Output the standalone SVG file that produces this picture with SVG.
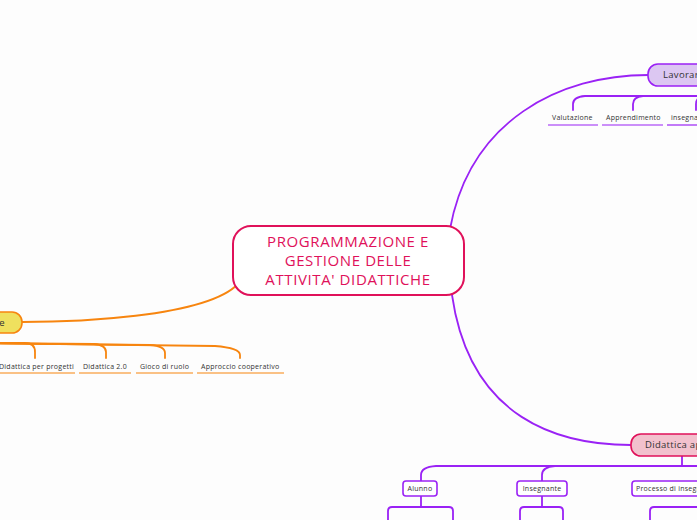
<svg xmlns="http://www.w3.org/2000/svg" width="697" height="520" viewBox="0 0 697 520">
<style>
.conn{fill:none;stroke-width:1.8;stroke-linecap:round}
.p{stroke:#9a22f5}
.o{stroke:#f7850f}
.lbl{font-family:"Open Sans","Liberation Sans",sans-serif;font-size:7px;letter-spacing:0.25px;fill:#333}
.ul{fill:none;stroke-width:1.2}
.root{font-family:"Open Sans","Liberation Sans",sans-serif;font-size:15px;letter-spacing:0.6px;fill:#e0115a;text-anchor:middle}
.main{font-family:"Open Sans","Liberation Sans",sans-serif;font-size:9.5px;letter-spacing:0.3px;fill:#333}
.box{fill:#fff;stroke:#9a22f5;stroke-width:1.6}
</style>
<rect width="697" height="520" fill="#fdfdfd"/>
<g id="connectors">
<path class="conn o" d="M238,284 C205,318 70,322 22,322"/>
<path class="conn p" d="M450,229 C470,120 560,75 648,75"/>
<path class="conn p" d="M452,295 C470,420 560,445 631,445"/>
<path class="conn o" d="M-30,343 L25,343 Q35,343 35,352 L35,358"/>
<path class="conn o" d="M-30,343 L94,344 Q106,345 106,352 L106,358"/>
<path class="conn o" d="M-30,343 L150,345 Q165,346 165,353 L165,358"/>
<path class="conn o" d="M-30,343 L215,346 Q240,348 240,355 L240,358"/>
<path class="conn p" d="M720,96 L585,96 Q573,97 573,104 L573,110"/>
<path class="conn p" d="M720,96 L643,96 Q633,97 633,104 L633,110"/>
<path class="conn p" d="M720,96 L704,96 Q696,97 696,104 L696,110"/>
<path class="conn p" d="M682,456 L682,466"/>
<path class="conn p" d="M720,466 L436,466 Q421,467 421,475 L421,481"/>
<path class="conn p" d="M720,466 L555,466 Q542,467 542,475 L542,481"/>
<path class="conn p" d="M421,496 L421,507"/>
<path class="conn p" d="M388,520 L388,511 Q388,507 392,507 L449,507 Q453,507 453,511 L453,520"/>
<path class="conn p" d="M542,496 L542,507"/>
<path class="conn p" d="M520,520 L520,511 Q520,507 524,507 L559,507 Q563,507 563,511 L563,520"/>
<path class="conn p" d="M650,520 L650,511 Q650,507 654,507 L700,507"/>
</g>
<g id="root">
<rect x="233" y="226" width="231" height="69" rx="18" fill="#fff" stroke="#e0115a" stroke-width="2"/>
<text class="root" x="348" y="247">PROGRAMMAZIONE E</text>
<text class="root" x="348" y="266">GESTIONE DELLE</text>
<text class="root" x="348" y="285">ATTIVITA' DIDATTICHE</text>
</g>
<g id="node-left">
<rect x="-40" y="312" width="62" height="21" rx="10" fill="#efe05e" stroke="#f7850f" stroke-width="1.6"/>
<text class="main" x="5" y="326" text-anchor="end">e</text>
</g>
<g id="node-didattica-progetti">
<text class="lbl" x="-1" y="369">Didattica per progetti</text>
<line class="ul o" x1="0" y1="373" x2="75" y2="373"/>
</g>
<g id="node-didattica-20">
<text class="lbl" x="83" y="369">Didattica 2.0</text>
<line class="ul o" x1="79" y1="373" x2="131" y2="373"/>
</g>
<g id="node-gioco">
<text class="lbl" x="140" y="369">Gioco di ruolo</text>
<line class="ul o" x1="136" y1="373" x2="193" y2="373"/>
</g>
<g id="node-approccio">
<text class="lbl" x="201" y="369">Approccio cooperativo</text>
<line class="ul o" x1="197" y1="373" x2="284" y2="373"/>
</g>
<g id="node-lavorar">
<rect x="648" y="64" width="90" height="22" rx="10" fill="#dcc7f2" stroke="#9a22f5" stroke-width="1.6"/>
<text class="main" x="663" y="78">Lavorar</text>
</g>
<g id="node-valutazione">
<text class="lbl" x="552" y="120">Valutazione</text>
<line class="ul p" x1="548" y1="125" x2="598" y2="125"/>
</g>
<g id="node-apprendimento">
<text class="lbl" x="606" y="120">Apprendimento</text>
<line class="ul p" x1="602" y1="125" x2="663" y2="125"/>
</g>
<g id="node-insegna">
<text class="lbl" x="671" y="120">insegna</text>
<line class="ul p" x1="667" y1="125" x2="697" y2="125"/>
</g>
<g id="node-didattica-ap">
<rect x="631" y="434" width="100" height="22" rx="10" fill="#f2c1cd" stroke="#e0115a" stroke-width="1.6"/>
<text class="main" x="645" y="448">Didattica ap</text>
</g>
<g id="node-alunno">
<rect class="box" x="403" y="481" width="34" height="15" rx="3"/>
<text class="lbl" x="420" y="491" text-anchor="middle">Alunno</text>
</g>
<g id="node-insegnante">
<rect class="box" x="517" y="481" width="50" height="15" rx="3"/>
<text class="lbl" x="542" y="491" text-anchor="middle">Insegnante</text>
</g>
<g id="node-processo">
<rect class="box" x="632" y="481" width="80" height="15" rx="3"/>
<text class="lbl" x="636" y="491">Processo di insegn</text>
</g>
</svg>
